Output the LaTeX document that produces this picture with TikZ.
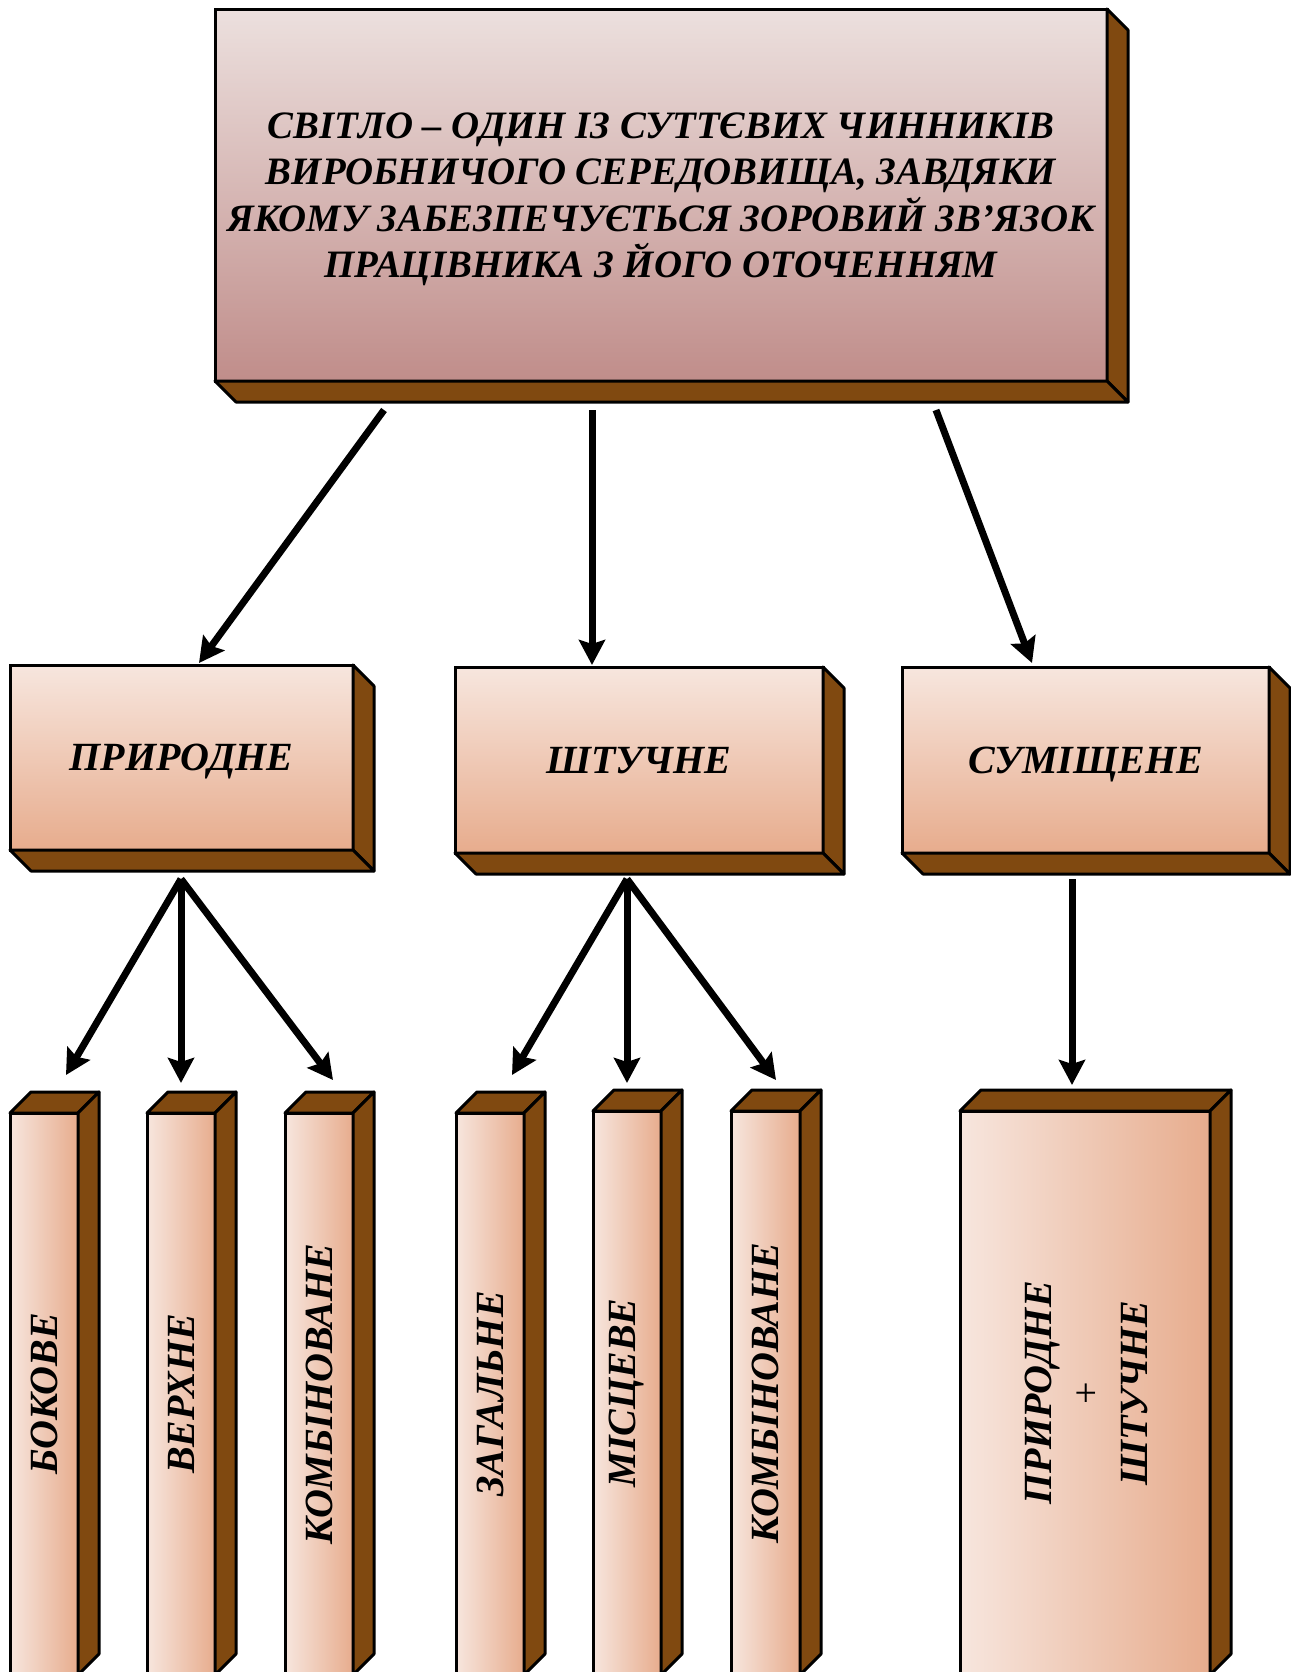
\documentclass[tikz,border=0pt]{standalone}
\usepackage{fontspec}
\setmainfont{Liberation Serif}
\usetikzlibrary{arrows.meta,calc}
\definecolor{topA}{RGB}{236,224,222}
\definecolor{topB}{RGB}{192,141,138}
\definecolor{midA}{RGB}{247,230,222}
\definecolor{midB}{RGB}{231,172,141}
\definecolor{brownside}{RGB}{128,73,16}
\tikzset{
  front/.style={draw=black, line width=1.5pt, outer sep=0pt, inner sep=0pt,
    font=\fontsize{20}{24}\selectfont\bfseries\itshape},
  vbox/.style={front, top color=midA, bottom color=midB, text height=13.4pt, text depth=0pt},
  hbox/.style={front, left color=midA, right color=midB},
  side/.style={draw=black, line width=1.5pt, fill=brownside, line join=round},
  arr/.style={line width=3.5pt, -{Stealth[length=12.5pt,width=13pt,inset=2pt]}},
}
\newcommand{\drsides}[2]{%
  \draw[side] (#1.north east) -- ++(#2,#2) -- ($(#1.south east)+(#2,#2)$) -- (#1.south east) -- cycle;
  \draw[side] (#1.south west) -- ++(#2,#2) -- ($(#1.south east)+(#2,#2)$) -- (#1.south east) -- cycle;}
\newcommand{\ursides}[2]{%
  \draw[side] (#1.north west) -- ++(#2,-#2) -- ($(#1.north east)+(#2,-#2)$) -- (#1.north east) -- cycle;
  \draw[side] (#1.north east) -- ++(#2,-#2) -- ($(#1.south east)+(#2,-#2)$) -- (#1.south east) -- cycle;}
\begin{document}
\begin{tikzpicture}[x=0.5pt,y=-0.5pt]
\path[use as bounding box] (0,0) rectangle (1291,1672);
\clip (0,0) rectangle (1291,1672);
\fill[white] (0,0) rectangle (1291,1672);

% top box
\node[front, top color=topA, bottom color=topB, minimum width=446pt, minimum height=186pt,
  align=center, font=\fontsize{19.4}{23.2}\selectfont\bfseries\itshape] (top) at (661,195)
  {СВІТЛО – ОДИН ІЗ СУТТЄВИХ ЧИННИКІВ\\ВИРОБНИЧОГО СЕРЕДОВИЩА, ЗАВДЯКИ\\ЯКОМУ ЗАБЕЗПЕЧУЄТЬСЯ ЗОРОВИЙ ЗВ’ЯЗОК\\\raisebox{0pt}[\height][0pt]{ПРАЦІВНИКА З ЙОГО ОТОЧЕННЯМ}};
\drsides{top}{21}

% middle row
\node[vbox, minimum width=171.5pt, minimum height=92.5pt] (nat) at (181.5,757.5) {ПРИРОДНЕ};
\drsides{nat}{21}
\node[vbox, minimum width=184pt, minimum height=93pt] (art) at (639,760) {ШТУЧНЕ};
\drsides{art}{21}
\node[vbox, minimum width=183.5pt, minimum height=93pt] (mix) at (1085.5,760) {СУМІЩЕНЕ};
\drsides{mix}{21}

% bottom columns
\node[hbox, minimum width=34pt, minimum height=281pt] (side) at (44,1394) {\rotatebox{90}{БОКОВЕ}};
\ursides{side}{21}
\node[hbox, minimum width=34pt, minimum height=281pt] (upper) at (181,1394) {\rotatebox{90}{ВЕРХНЕ}};
\ursides{upper}{21}
\node[hbox, minimum width=34pt, minimum height=281pt] (comb1) at (319,1394) {\rotatebox{90}{КОМБІНОВАНЕ}};
\ursides{comb1}{21}
\node[hbox, minimum width=34pt, minimum height=281pt] (gen) at (490,1394) {\rotatebox{90}{ЗАГАЛЬНЕ}};
\ursides{gen}{21}
\node[hbox, minimum width=34pt, minimum height=282pt] (loc) at (627,1393) {\rotatebox{90}{МІСЦЕВЕ}};
\ursides{loc}{21}
\node[hbox, minimum width=34.5pt, minimum height=282pt] (comb2) at (765.5,1393) {\rotatebox{90}{КОМБІНОВАНЕ}};
\ursides{comb2}{21}
\node[hbox, minimum width=125pt, minimum height=282pt] (both) at (1085,1393)
  {\hspace{5pt}\rotatebox{90}{\begin{tabular}{@{}c@{}}ПРИРОДНЕ\\{\normalfont\fontsize{20}{24}\selectfont +}\\ШТУЧНЕ\end{tabular}}};
\ursides{both}{21}

% arrow endpoints
\coordinate (t1) at (384,410);
\coordinate (t2) at (592,410);
\coordinate (t3) at (936,410);
\coordinate (n1) at (199,663);
\coordinate (n2) at (592,665);
\coordinate (n3) at (1032,663);
\coordinate (ps) at (181,879);
\coordinate (p1) at (66,1075);
\coordinate (p2) at (181,1083);
\coordinate (p3) at (333,1080);
\coordinate (ss) at (627,879);
\coordinate (s1) at (512,1075);
\coordinate (s2) at (627,1083);
\coordinate (s3) at (776,1080);
\coordinate (ms) at (1072,879);
\coordinate (m1) at (1072,1085);

\draw[arr] (t1) -- (n1);
\draw[arr] (t2) -- (n2);
\draw[arr] (t3) -- (n3);
\draw[arr] (ps) -- (p1);
\draw[arr] (ps) -- (p2);
\draw[arr] (ps) -- (p3);
\draw[arr] (ss) -- (s1);
\draw[arr] (ss) -- (s2);
\draw[arr] (ss) -- (s3);
\draw[arr] (ms) -- (m1);
\end{tikzpicture}
\end{document}
